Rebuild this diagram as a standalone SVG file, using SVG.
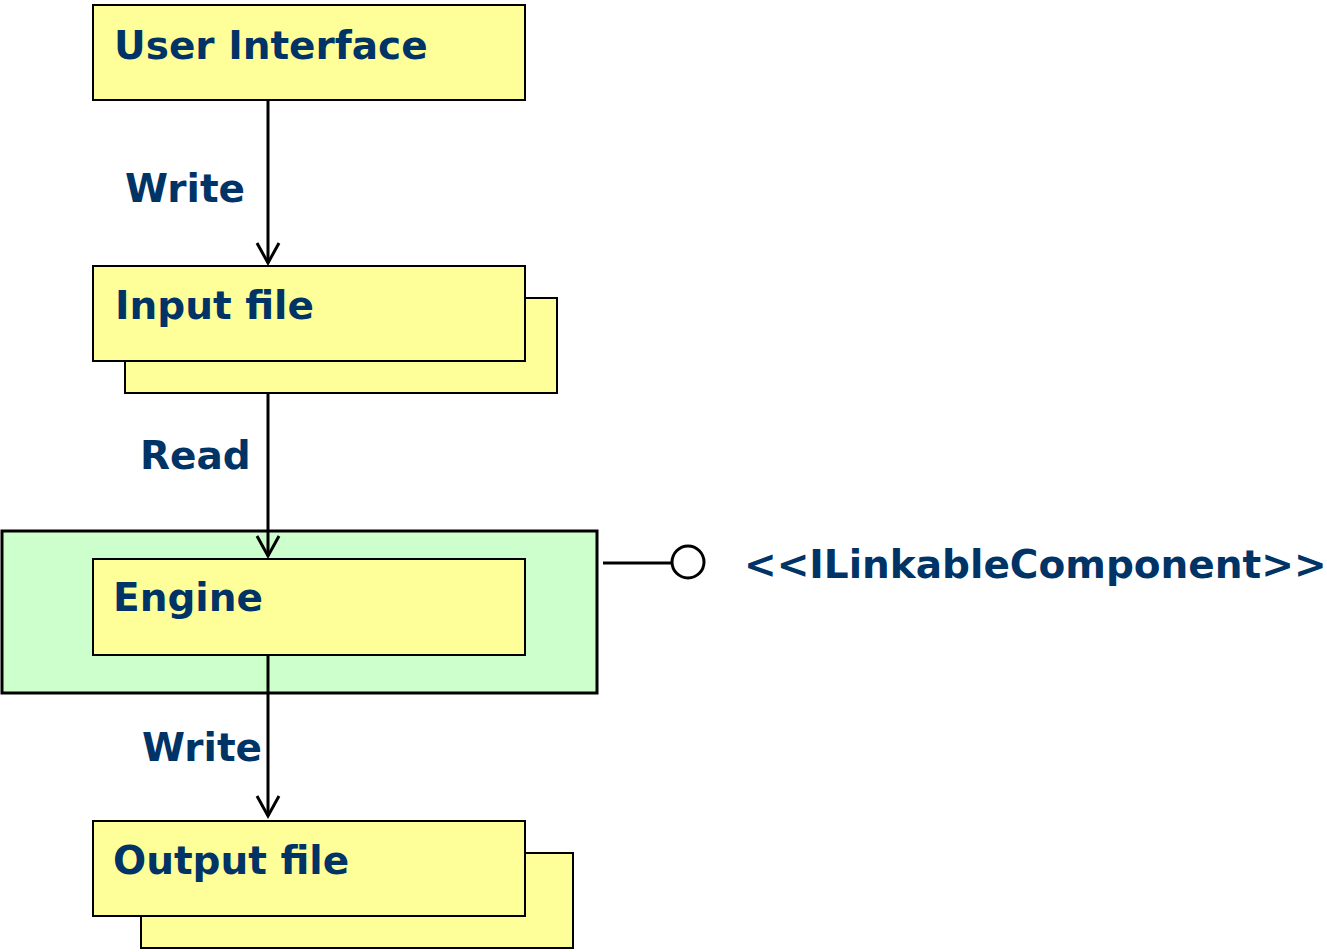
<svg xmlns="http://www.w3.org/2000/svg" width="1327" height="952" viewBox="0 0 1327 952">
  <style>
    .box { fill: #FFFF99; stroke: #000; stroke-width: 2; }
    .frame { fill: #CCFFCC; stroke: #000; stroke-width: 3; }
    .lbl { font-family: "DejaVu Sans", Verdana, sans-serif; font-weight: bold; font-size: 39px; fill: #003366; }
    .wire { stroke: #000; stroke-width: 3; fill: none; }
  </style>
  <defs>
    <marker id="open" viewBox="0 0 26 26" refX="22" refY="13" markerWidth="26" markerHeight="26" markerUnits="userSpaceOnUse" orient="auto">
      <path d="M2,2 L22,13 L2,24" fill="none" stroke="#000" stroke-width="3"/>
    </marker>
  </defs>

  <g id="ui">
    <rect class="box" x="93" y="5" width="432" height="95"/>
    <text class="lbl" x="114" y="59">User Interface</text>
  </g>

  <g id="input-file">
    <rect class="box" x="125" y="298" width="432" height="95"/>
    <rect class="box" x="93" y="266" width="432" height="95"/>
    <text class="lbl" x="115" y="319">Input file</text>
  </g>

  <g id="engine-component">
    <rect class="frame" x="2" y="531" width="595" height="162"/>
    <g id="engine">
      <rect class="box" x="93" y="559" width="432" height="96"/>
      <text class="lbl" x="113" y="611">Engine</text>
    </g>
  </g>

  <g id="interface">
    <line class="wire" x1="603" y1="563" x2="672" y2="563"/>
    <circle cx="688" cy="562" r="16" fill="#fff" stroke="#000" stroke-width="3"/>
    <text class="lbl" x="744" y="578">&lt;&lt;ILinkableComponent&gt;&gt;</text>
  </g>

  <g id="output-file">
    <rect class="box" x="141" y="853" width="432" height="95"/>
    <rect class="box" x="93" y="821" width="432" height="95"/>
    <text class="lbl" x="113" y="874">Output file</text>
  </g>

  <g id="connectors">
    <line class="wire" x1="268" y1="100" x2="268" y2="263" marker-end="url(#open)"/>
    <text class="lbl" x="125" y="202">Write</text>
    <line class="wire" x1="268" y1="393" x2="268" y2="556" marker-end="url(#open)"/>
    <text class="lbl" x="140" y="469">Read</text>
    <line class="wire" x1="268" y1="655" x2="268" y2="816" marker-end="url(#open)"/>
    <text class="lbl" x="142" y="761">Write</text>
  </g>
</svg>
